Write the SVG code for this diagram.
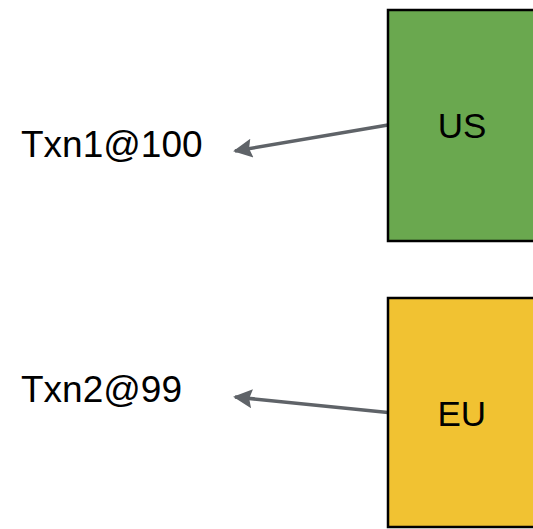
<svg xmlns="http://www.w3.org/2000/svg" width="533" height="529" viewBox="0 0 533 529">
  <style>
    .box { stroke: #000; stroke-width: 2.5; }
    .label { font-family: "Liberation Sans", Arial, sans-serif; fill: #000; }
    .txn { font-size: 37px; }
    .region { font-size: 35px; text-anchor: middle; }
    .edge { stroke: #5f6368; stroke-width: 3.5; fill: none; marker-end: url(#head); }
  </style>
  <defs>
    <marker id="head" viewBox="0 0 10 10" refX="9" refY="5" markerUnits="userSpaceOnUse" markerWidth="27" markerHeight="19" orient="auto">
      <path d="M0,0 L10,5 L0,10 L1.5,5 Z" fill="#5f6368"/>
    </marker>
  </defs>
  <rect width="533" height="529" fill="#fff"/>

  <g id="connectors">
    <line class="edge" x1="388" y1="125" x2="235" y2="151"/>
    <line class="edge" x1="388" y1="412.5" x2="235" y2="397"/>
  </g>

  <g id="us">
    <rect class="box" x="388" y="10" width="160" height="231" fill="#6aa84f"/>
    <text class="label region" x="462" y="137.7">US</text>
  </g>

  <g id="eu">
    <rect class="box" x="388" y="298" width="160" height="229" fill="#f1c232"/>
    <text class="label region" x="461.7" y="425.7">EU</text>
  </g>

  <g id="txn1">
    <text class="label txn" x="21" y="156.5">Txn1@100</text>
  </g>

  <g id="txn2">
    <text class="label txn" x="21" y="401.5">Txn2@99</text>
  </g>
</svg>
